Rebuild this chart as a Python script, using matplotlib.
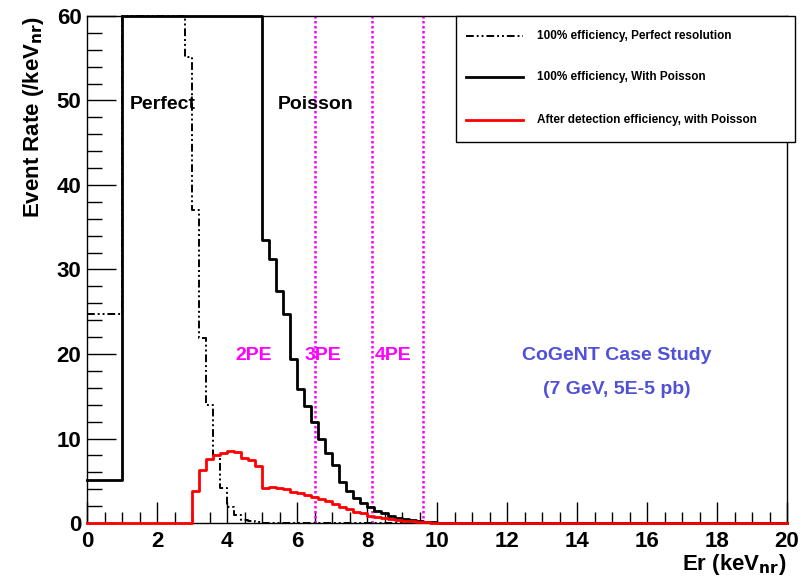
import numpy as np
import matplotlib
matplotlib.use('Agg')
import matplotlib.pyplot as plt
from matplotlib.patches import Rectangle
from matplotlib.ticker import MultipleLocator

plt.rcParams['font.family'] = ['Liberation Sans', 'DejaVu Sans']
plt.rcParams['font.weight'] = 'bold'

# bin edges: one wide bin 0-1 keV, then 0.2 keV bins up to 20
edges = np.concatenate([[0.0], np.round(np.arange(1.0, 20.001, 0.2), 2)])

# 100% efficiency, perfect resolution (clipped at 60 on the plot)
perfect = [24.7] + [60] * 9 + [55.2, 37.0, 21.9, 14.0, 8.0, 4.1, 1.9, 0.95, 0.4,
                                0.2, 0.1, 0.05, 0.03]
# 100% efficiency, with Poisson
poisson = [5.1] + [60] * 20 + [33.5, 31.3, 27.4, 24.7, 19.4, 15.9, 13.8, 12.0, 10.0,
                               8.3, 6.9, 4.8, 3.8, 3.0, 2.4, 1.9, 1.45, 1.15, 0.86,
                               0.63, 0.5, 0.35, 0.25, 0.15, 0.1, 0.05]
# after detection efficiency, with Poisson
detected = [0.0] + [0.0] * 10 + [3.8, 6.3, 7.6, 8.0, 8.25, 8.55, 8.45, 7.75, 7.5, 6.8,
                                 4.2, 4.3, 4.2, 4.0, 3.7, 3.5, 3.3, 3.1, 2.9, 2.65,
                                 2.3, 1.95, 1.65, 1.35, 1.15, 0.87, 0.67, 0.55, 0.43,
                                 0.35, 0.28, 0.2, 0.15, 0.1, 0.06, 0.03]

pe_lines = [6.5, 8.15, 9.6]
pe_labels = ['2PE', '3PE', '4PE']
pe_label_x = [4.77, 6.74, 8.74]

legend_labels = ['100% efficiency, Perfect resolution',
                 '100% efficiency, With Poisson',
                 'After detection efficiency, with Poisson']


def pad(vals):
    v = np.zeros(len(edges) - 1)
    v[:len(vals)] = vals
    return np.append(v, v[-1])


fig = plt.figure(figsize=(8.02, 5.81), dpi=100)
ax = fig.add_axes([0.1085, 0.0998, 0.8728, 0.8727])

ax.step(edges, pad(poisson), where='post', color='black', lw=2, clip_on=False, zorder=3)
ax.step(edges, pad(perfect), where='post', color='black', lw=1.4,
        dashes=(4, 1.5, 1, 1.5, 1, 1.5), clip_on=False, zorder=3)
ax.step(edges, pad(detected), where='post', color='red', lw=2, clip_on=False, zorder=4)

for xv in pe_lines:
    ax.plot([xv, xv], [0, 60], color='#ff00ff', lw=1.8, ls=(0, (1, 1)), zorder=2)

ax.set_xlim(0, 20)
ax.set_ylim(0, 60)
ax.xaxis.set_major_locator(MultipleLocator(2))
ax.xaxis.set_minor_locator(MultipleLocator(0.5))
ax.yaxis.set_major_locator(MultipleLocator(10))
ax.yaxis.set_minor_locator(MultipleLocator(2))
ax.tick_params(which='both', direction='in', top=False, right=False, labelsize=16, width=1)
ax.tick_params(axis='x', which='major', length=15, pad=6)
ax.tick_params(axis='x', which='minor', length=8)
ax.tick_params(axis='y', which='major', length=21, pad=4)
ax.tick_params(axis='y', which='minor', length=11)
for lab in ax.get_xticklabels() + ax.get_yticklabels():
    lab.set_fontweight('bold')
for s in ax.spines.values():
    s.set_linewidth(1)

ax.set_xlabel('Er (keV$_{\\mathbf{nr}}$)', fontsize=16, fontweight='bold', loc='right', labelpad=0)
ax.set_ylabel('Event Rate (/keV$_{\\mathbf{nr}}$)', fontsize=16, fontweight='bold', loc='top', labelpad=8)

ax.text(1.22, 49.5, 'Perfect', fontsize=14, fontweight='bold', va='center')
ax.text(5.45, 49.5, 'Poisson', fontsize=14, fontweight='bold', va='center')
for lx, lab in zip(pe_label_x, pe_labels):
    ax.text(lx, 19.8, lab, color='#ff00ff', fontsize=14, fontweight='bold', va='center', ha='center')
ax.text(15.14, 19.8, 'CoGeNT Case Study', color='#5050d8', fontsize=14, fontweight='bold', ha='center', va='center')
ax.text(15.14, 15.8, '(7 GeV, 5E-5 pb)', color='#5050d8', fontsize=14, fontweight='bold', ha='center', va='center')

# legend box drawn in figure pixels (it sticks out past the frame)
W, H = 802, 581
fig.patches.append(Rectangle((456 / W, 1 - 142 / H), (795 - 456) / W, (142 - 16) / H,
                             transform=fig.transFigure, fill=True, facecolor='white',
                             edgecolor='black', lw=1, zorder=5))
leg_y = [36, 77, 120]
styles = [dict(color='black', lw=1.4, dashes=(4, 1.5, 1, 1.5, 1, 1.5)),
          dict(color='black', lw=2),
          dict(color='red', lw=2)]
for yy, lab, st in zip(leg_y, legend_labels, styles):
    fig.add_artist(plt.Line2D([466 / W, 523 / W], [1 - yy / H, 1 - yy / H],
                              transform=fig.transFigure, zorder=6, **st))
    fig.text(537 / W, 1 - yy / H, lab, fontsize=8.5, fontweight='bold', va='center', zorder=6)

fig.savefig('out.png', dpi=100)
